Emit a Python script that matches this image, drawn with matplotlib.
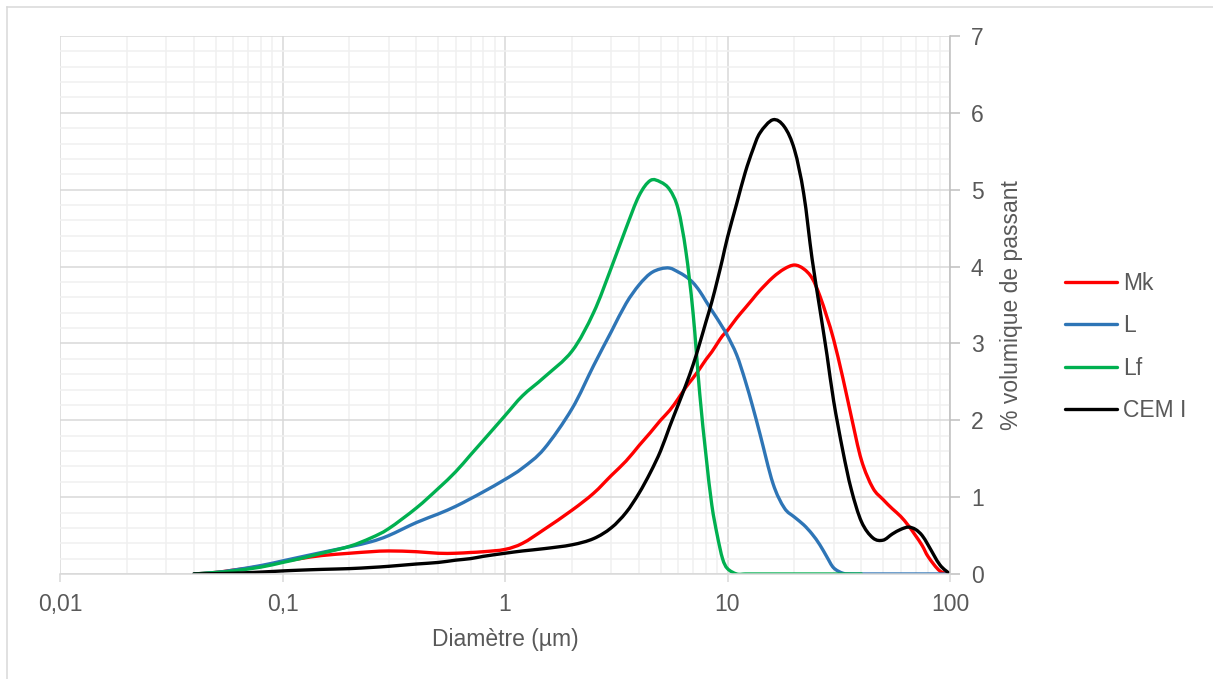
import matplotlib
matplotlib.use('Agg')
import matplotlib.pyplot as plt
import matplotlib.ticker as mticker
from matplotlib.lines import Line2D
from matplotlib.path import Path
from matplotlib.patches import PathPatch
import numpy as np

plt.rcParams['font.family'] = ['Liberation Sans', 'DejaVu Sans']

# diametre (µm)
diam = [0.04, 0.05, 0.06, 0.08, 0.1, 0.12, 0.15, 0.2, 0.25, 0.3, 0.4, 0.5, 0.6, 0.7, 0.8,
        1, 1.2, 1.5, 2, 2.5, 3, 3.5, 4, 4.5, 5, 5.5, 6, 6.5, 7, 7.5, 8, 8.5, 9, 9.5,
        10, 11, 12, 13, 14, 16, 18, 20, 22, 24, 26, 28, 30, 33, 36, 40, 45, 50, 55,
        60, 65, 70, 75, 80, 90, 100]

mk = [0, 0.02, 0.05, 0.10, 0.16, 0.20, 0.24, 0.27, 0.29, 0.30, 0.29, 0.27, 0.27, 0.28, 0.29,
      0.32, 0.40, 0.58, 0.83, 1.05, 1.28, 1.47, 1.67, 1.84, 2.0, 2.13, 2.28, 2.43, 2.55, 2.67, 2.79, 2.89, 3.0, 3.1,
      3.17, 3.33, 3.46, 3.58, 3.69, 3.86, 3.97, 4.02, 3.97, 3.85, 3.62, 3.34, 3.05, 2.55, 2.05, 1.48, 1.12, 0.97, 0.85,
      0.75, 0.63, 0.50, 0.37, 0.22, 0.04, 0]

l = [0, 0.02, 0.05, 0.11, 0.17, 0.22, 0.28, 0.355, 0.42, 0.50, 0.67, 0.78, 0.88, 0.98, 1.07,
     1.23, 1.38, 1.63, 2.15, 2.71, 3.15, 3.52, 3.76, 3.91, 3.97, 3.98, 3.93, 3.87, 3.79, 3.68, 3.55, 3.43, 3.32, 3.21,
     3.10, 2.85, 2.52, 2.17, 1.82, 1.18, 0.86, 0.74, 0.64, 0.52, 0.38, 0.22, 0.08, 0.01, 0, 0, 0, 0, 0,
     0, 0, 0, 0, 0, 0, 0]

lf = [0, 0.02, 0.04, 0.09, 0.15, 0.20, 0.27, 0.36, 0.47, 0.59, 0.86, 1.11, 1.33, 1.55, 1.74,
      2.06, 2.32, 2.56, 2.90, 3.40, 3.98, 4.50, 4.92, 5.12, 5.10, 5.00, 4.75, 4.20, 3.40, 2.35, 1.55, 0.90, 0.50, 0.20,
      0.07, 0, 0, 0, 0, 0, 0, 0, 0, 0, 0, 0, 0, 0, 0, 0, np.nan, np.nan, np.nan,
      np.nan, np.nan, np.nan, np.nan, np.nan, np.nan, np.nan]

cem = [0, 0.005, 0.01, 0.025, 0.04, 0.05, 0.06, 0.07, 0.085, 0.10, 0.13, 0.15, 0.18, 0.20, 0.23,
       0.27, 0.30, 0.33, 0.38, 0.46, 0.60, 0.80, 1.05, 1.32, 1.60, 1.92, 2.20, 2.46, 2.72, 3.0, 3.28, 3.54, 3.82, 4.10,
       4.38, 4.82, 5.22, 5.52, 5.74, 5.91, 5.82, 5.52, 4.95, 4.10, 3.45, 2.85, 2.25, 1.60, 1.10, 0.68, 0.47, 0.44, 0.52,
       0.58, 0.61, 0.58, 0.50, 0.37, 0.12, 0]

names = ['Mk', 'L', 'Lf', 'CEM I']
colors = ['#FF0000', '#2E75B6', '#00B050', '#000000']
LW = 2.4
FS = 16.5
GREY = '#595959'


def smoothed(x, y):
    # Excel-like smoothed line: cubic bezier through the points (log-x space)
    x = np.asarray(x, float)
    y = np.asarray(y, float)
    ok = ~np.isnan(y)
    pts = np.column_stack([np.log10(x[ok]), y[ok]])
    n = len(pts)
    verts = [pts[0]]
    codes = [Path.MOVETO]
    for i in range(n - 1):
        p0 = pts[i - 1] if i > 0 else pts[i]
        p1, p2 = pts[i], pts[i + 1]
        p3 = pts[i + 2] if i + 2 < n else pts[i + 1]
        verts += [p1 + (p2 - p0) / 6, p2 - (p3 - p1) / 6, p2]
        codes += [Path.CURVE4] * 3
    verts = np.array(verts)
    verts[:, 0] = 10 ** verts[:, 0]
    return Path(verts, codes)


fig = plt.figure(figsize=(12.13, 6.79), dpi=100)
ax = fig.add_axes([60/1213, 105/679, 890/1213, 538/679])

for ys, c in zip([mk, l, lf, cem], colors):
    ax.add_patch(PathPatch(smoothed(diam, ys), fill=False, edgecolor=c, lw=LW,
                           joinstyle='round', capstyle='round'))

ax.set_xscale('log')
ax.set_xlim(0.01, 100)
ax.set_ylim(0, 7)

ax.xaxis.set_major_locator(mticker.LogLocator(base=10, numticks=10))
ax.xaxis.set_minor_locator(mticker.LogLocator(base=10, subs=np.arange(2, 10), numticks=10))
ax.xaxis.set_major_formatter(mticker.FuncFormatter(lambda v, p: ('%g' % v).replace('.', ',')))
ax.xaxis.set_minor_formatter(mticker.NullFormatter())
ax.yaxis.set_major_locator(mticker.MultipleLocator(1))
ax.yaxis.set_minor_locator(mticker.MultipleLocator(0.2))

ax.grid(which='major', color='#D9D9D9', lw=1.1)
ax.grid(which='minor', color='#F0F0F0', lw=1.1)
ax.set_axisbelow(True)

ax.yaxis.tick_right()
ax.yaxis.set_label_position('right')
for side in ['top', 'left']:
    ax.spines[side].set_visible(False)
ax.spines['right'].set_color('#BFBFBF')
ax.spines['bottom'].set_color('#D9D9D9')
ax.spines['right'].set_linewidth(1.1)
ax.spines['bottom'].set_linewidth(1.1)

ax.tick_params(axis='y', which='major', length=7, width=1.1, color='#BFBFBF', labelsize=FS,
               labelcolor=GREY, pad=8)
ax.tick_params(axis='x', which='major', length=6, width=1.1, color='#D9D9D9', labelsize=FS,
               labelcolor=GREY, pad=8)
ax.tick_params(which='minor', length=0)

ax.set_xlabel('Diamètre (µm)', fontsize=FS, color=GREY, labelpad=8)
ax.set_ylabel('% volumique de passant', fontsize=FS, color=GREY, labelpad=12)

handles = [Line2D([], [], color=c, lw=LW, solid_capstyle='round') for c in colors]
leg = fig.legend(handles, names, loc='center left', bbox_to_anchor=(1044/1213, 1 - 347/679),
                 frameon=False, fontsize=FS, handlelength=2.3, labelspacing=0.85, handletextpad=0.25)
for t in leg.get_texts():
    t.set_color(GREY)

# outer chart border (left and top only visible)
fig.add_artist(Line2D([7/1213, 7/1213], [0, 1 - 7/679], color='#D9D9D9', lw=1.1))
fig.add_artist(Line2D([7/1213, 1], [1 - 7/679, 1 - 7/679], color='#D9D9D9', lw=1.1))

fig.savefig('out.png', dpi=100)
